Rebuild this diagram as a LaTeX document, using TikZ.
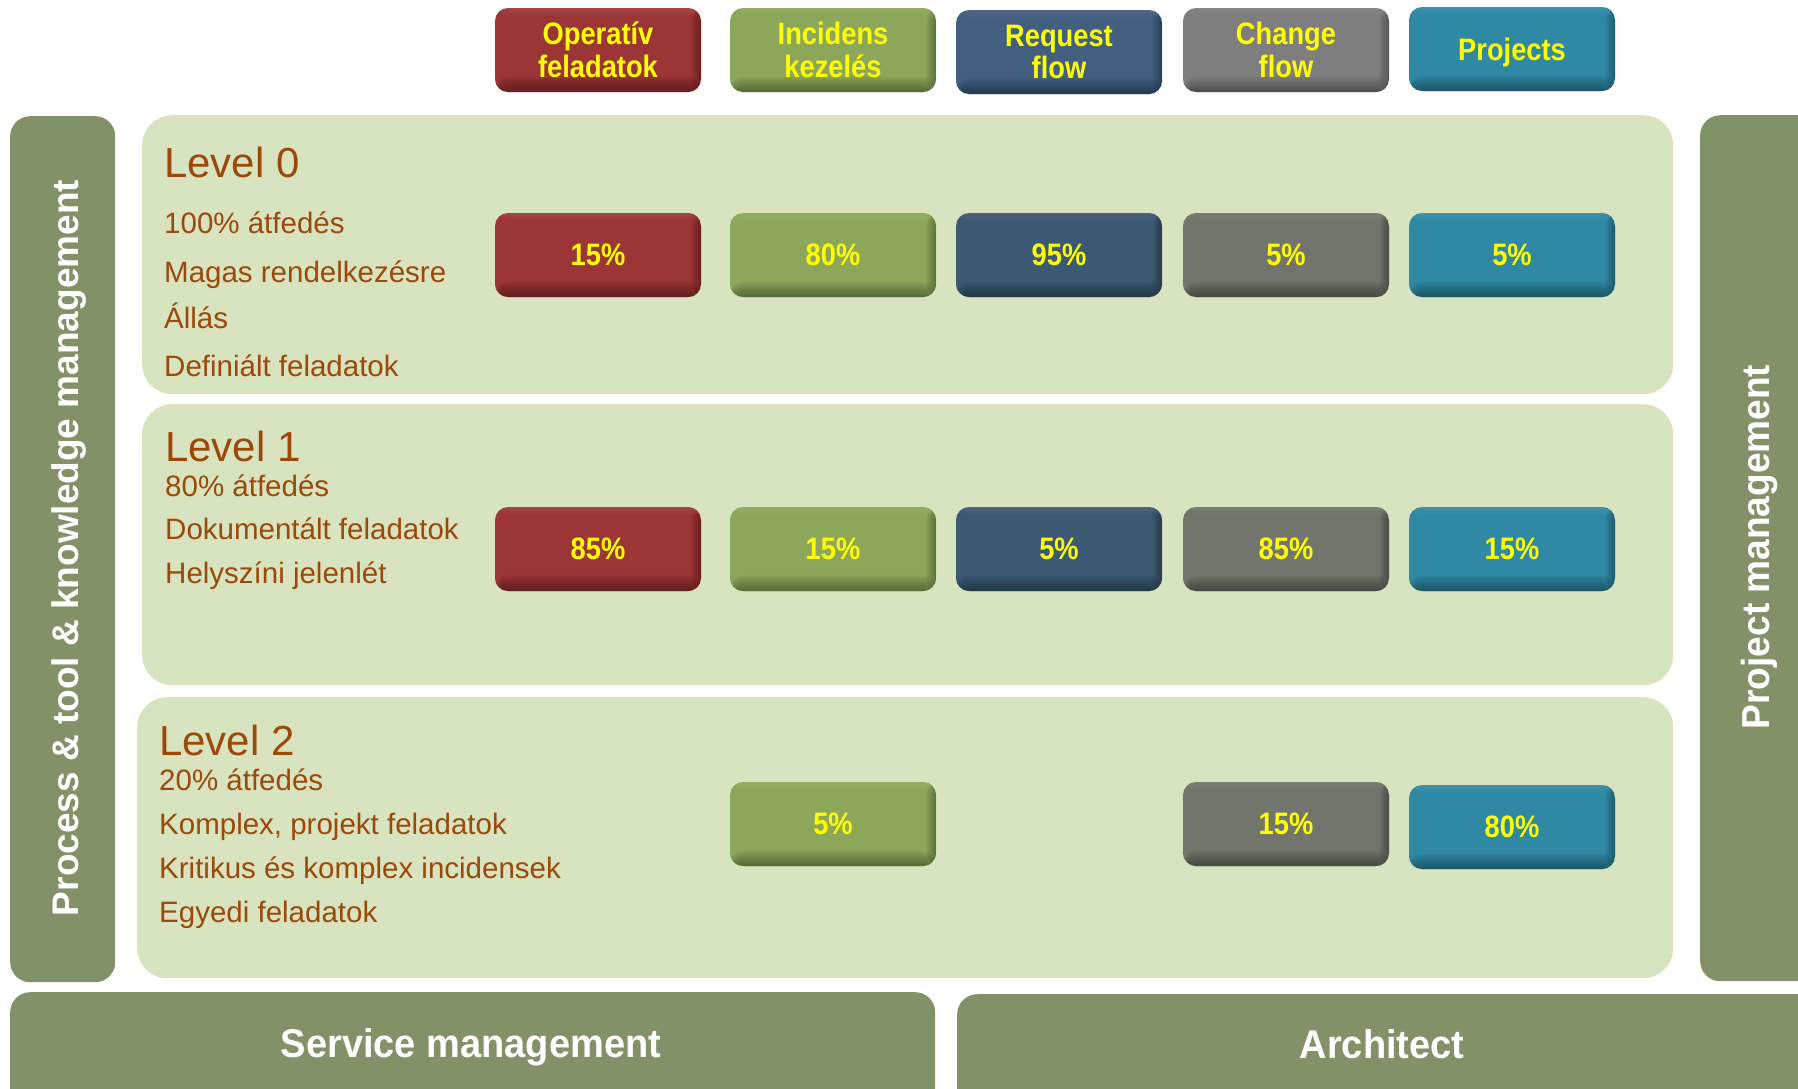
\documentclass[tikz,border=0pt]{standalone}
\usepackage{fontspec}
\setmainfont{Liberation Sans}
\newfontfamily\narrowfont[FakeStretch=0.88]{Liberation Sans}
\newfontfamily\midfont[FakeStretch=0.95]{Liberation Sans}
\definecolor{panelgreen}{RGB}{216,228,191}
\definecolor{barolive}{RGB}{131,145,105}
\definecolor{txtbrown}{RGB}{156,72,8}
\definecolor{cred}{RGB}{155,53,54}
\definecolor{cgreen}{RGB}{141,167,90}
\definecolor{cblueH}{RGB}{66,95,128}
\definecolor{cblueL}{RGB}{60,89,115}
\definecolor{cgrayH}{RGB}{126,126,126}
\definecolor{cgrayL}{RGB}{113,117,108}
\definecolor{cteal}{RGB}{48,137,164}
\definecolor{labelyellow}{RGB}{255,255,0}
\begin{document}
\begin{tikzpicture}[x=1pt,y=-1pt,
  panel/.style={fill=panelgreen, rounded corners=30pt, inner sep=0pt, anchor=north west},
  bar/.style={fill=barolive, rounded corners=20pt, inner sep=0pt, anchor=north west},
  cell/.style={fill=#1, rounded corners=13pt, minimum width=206pt, minimum height=84pt,
    inner sep=0pt, text=labelyellow, align=center,
    font=\narrowfont\bfseries\fontsize{31}{32.5}\selectfont,
    path picture={
      \foreach \h in {1,...,16}{
        \fill[black,opacity=0.022] ([yshift=\h pt]path picture bounding box.south west) rectangle (path picture bounding box.south east);
      }
      \foreach \w in {1,...,10}{
        \fill[black,opacity=0.03] ([xshift=-\w pt]path picture bounding box.north east) rectangle (path picture bounding box.south east);
      }
      \foreach \h in {1,...,8}{
        \fill[white,opacity=0.012] (path picture bounding box.north west) rectangle ([yshift=-\h pt]path picture bounding box.north east);
      }
    }},
  lvltitle/.style={anchor=base west, inner sep=0pt, text=txtbrown, font=\fontsize{42}{42}\selectfont},
  lvltext/.style={anchor=base west, inner sep=0pt, text=txtbrown, font=\fontsize{29.5}{29.5}\selectfont},
  sidetext/.style={text=white, inner sep=0pt, anchor=base},
]
\useasboundingbox (0,0) rectangle (1798,1088);
\clip (0,0) rectangle (1798,1088);

% level panels
\node[panel, minimum width=1531pt, minimum height=279pt] (p0) at (142,115) {};
\node[panel, minimum width=1531pt, minimum height=281pt] (p1) at (142,404) {};
\node[panel, minimum width=1536pt, minimum height=281pt] (p2) at (137,697) {};

% side and bottom bars
\node[bar, minimum width=105pt, minimum height=866pt] (lbar) at (10,116) {};
\node[bar, minimum width=140pt, minimum height=866pt] (rbar) at (1700,115) {};
\node[bar, minimum width=925pt, minimum height=140pt] (sbar) at (10,992) {};
\node[bar, minimum width=880pt, minimum height=140pt] (abar) at (957,994) {};

\node[sidetext, rotate=90, font=\bfseries\fontsize{37}{37}\selectfont] (ltxt) at (78,548) {Process \& tool \& knowledge management};
\node[sidetext, rotate=90, font=\midfont\bfseries\fontsize{39}{39}\selectfont] (rtxt) at (1769,547) {Project management};
\node[sidetext, font=\midfont\bfseries\fontsize{40}{40}\selectfont] (stxt) at (471,1057) {Service management};
\node[sidetext, font=\midfont\bfseries\fontsize{40}{40}\selectfont] (atxt) at (1382,1058) {Architect};

% header boxes
\node[cell=cred] (h1) at (598,50) {Operatív\\feladatok};
\node[cell=cgreen] (h2) at (833,50) {Incidens\\kezelés};
\node[cell=cblueH] (h3) at (1059,52) {Request\\flow};
\node[cell=cgrayH] (h4) at (1286,50) {Change\\flow};
\node[cell=cteal, text depth=0pt] (h5) at (1512,49) {Projects};

% level 0
\node[lvltitle] (t0) at (164,177) {Level 0};
\node[lvltext] (t0a) at (164,233) {100\% átfedés};
\node[lvltext] (t0b) at (164,282) {Magas rendelkezésre};
\node[lvltext] (t0c) at (164,328) {Állás};
\node[lvltext] (t0d) at (164,376) {Definiált feladatok};
\node[cell=cred] (a1) at (598,255) {15\%};
\node[cell=cgreen] (a2) at (833,255) {80\%};
\node[cell=cblueL] (a3) at (1059,255) {95\%};
\node[cell=cgrayL] (a4) at (1286,255) {5\%};
\node[cell=cteal] (a5) at (1512,255) {5\%};

% level 1
\node[lvltitle] (t1) at (165,461) {Level 1};
\node[lvltext] (t1a) at (165,496) {80\% átfedés};
\node[lvltext] (t1b) at (165,539) {Dokumentált feladatok};
\node[lvltext] (t1c) at (165,583) {Helyszíni jelenlét};
\node[cell=cred] (b1) at (598,549) {85\%};
\node[cell=cgreen] (b2) at (833,549) {15\%};
\node[cell=cblueL] (b3) at (1059,549) {5\%};
\node[cell=cgrayL] (b4) at (1286,549) {85\%};
\node[cell=cteal] (b5) at (1512,549) {15\%};

% level 2
\node[lvltitle] (t2) at (159,755) {Level 2};
\node[lvltext] (t2a) at (159,790) {20\% átfedés};
\node[lvltext] (t2b) at (159,834) {Komplex, projekt feladatok};
\node[lvltext] (t2c) at (159,878) {Kritikus és komplex incidensek};
\node[lvltext] (t2d) at (159,922) {Egyedi feladatok};
\node[cell=cgreen] (c2) at (833,824) {5\%};
\node[cell=cgrayL] (c4) at (1286,824) {15\%};
\node[cell=cteal] (c5) at (1512,827) {80\%};
\end{tikzpicture}
\end{document}
